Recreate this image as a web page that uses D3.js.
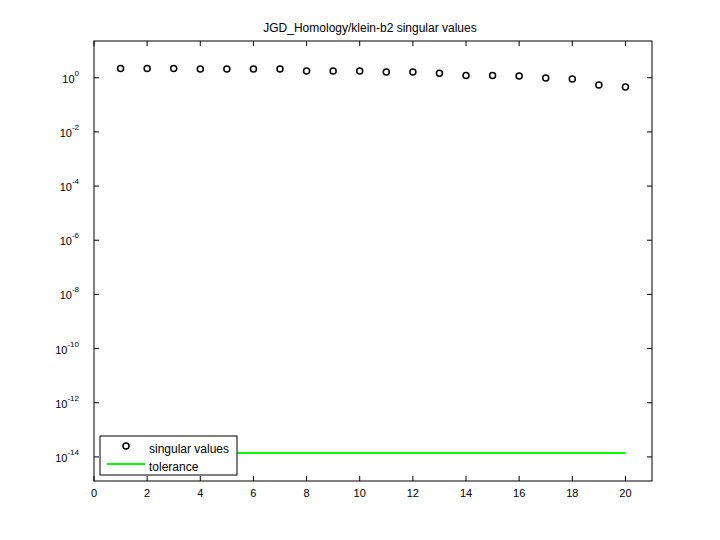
<!DOCTYPE html><html><head><meta charset="utf-8"><script src="https://d3js.org/d3.v7.min.js"></script>
<style>body{margin:0;background:#fff}text{font-family:"Liberation Sans",Arial,sans-serif}</style></head><body><svg id="c" width="720" height="540"></svg>
<script>
const indices=[1,2,3,4,5,6,7,8,9,10,11,12,13,14,15,16,17,18,19,20];
const singularValues=[2.21,2.21,2.21,2.09,2.09,2.09,2.09,1.76,1.76,1.76,1.62,1.62,1.45,1.22,1.22,1.15,0.98,0.89,0.54,0.45];
const tolerance=1.4e-14;
const xTicks=[0,2,4,6,8,10,12,14,16,18,20];
const yExps=[0,-2,-4,-6,-8,-10,-12,-14];
const svg=d3.select("#c");
const L=94,R=652,T=41,B=481;
const x=d3.scaleLinear().domain([0,21]).range([L,R]);
const y=d3.scaleLog().domain([Math.pow(10,-14.89),Math.pow(10,1.356)]).range([B,T]);
svg.append("rect").attr("x",L).attr("y",T).attr("width",R-L).attr("height",B-T).attr("fill","none").attr("stroke","#000");
const g=svg.append("g");
xTicks.forEach(t=>{const px=x(t);
 g.append("line").attr("x1",px).attr("x2",px).attr("y1",B).attr("y2",B-5).attr("stroke","#000");
 g.append("line").attr("x1",px).attr("x2",px).attr("y1",T).attr("y2",T+5).attr("stroke","#000");
 g.append("text").attr("x",px).attr("y",B+16).attr("text-anchor","middle").attr("font-size",11).text(t);});
yExps.forEach(e=>{const py=y(Math.pow(10,e));
 g.append("line").attr("x1",L).attr("x2",L+5).attr("y1",py).attr("y2",py).attr("stroke","#000");
 g.append("line").attr("x1",R).attr("x2",R-5).attr("y1",py).attr("y2",py).attr("stroke","#000");
 const t=g.append("text").attr("x",79).attr("y",py+5).attr("text-anchor","end").attr("font-size",11);
 t.append("tspan").text("10");
 t.append("tspan").attr("dy",-7).attr("font-size",8).text(e);});
svg.append("line").attr("x1",x(1)).attr("x2",x(20)).attr("y1",y(tolerance)).attr("y2",y(tolerance)).attr("stroke","#00ff00").attr("stroke-width",2);
svg.selectAll("circle.p").data(indices).enter().append("circle").attr("cx",d=>x(d)).attr("cy",(d,i)=>y(singularValues[i])).attr("r",3).attr("fill","none").attr("stroke","#000").attr("stroke-width",1.5);
svg.append("text").attr("x",370).attr("y",32).attr("text-anchor","middle").attr("font-size",12).text("JGD_Homology/klein-b2 singular values");
const lg=svg.append("g");
lg.append("rect").attr("x",100).attr("y",436).attr("width",137).attr("height",39).attr("fill","#fff").attr("stroke","#000");
lg.append("circle").attr("cx",126).attr("cy",446).attr("r",3).attr("fill","none").attr("stroke","#000").attr("stroke-width",1.5);
lg.append("text").attr("x",149).attr("y",453).attr("font-size",12).text("singular values");
lg.append("line").attr("x1",107).attr("x2",145).attr("y1",464).attr("y2",464).attr("stroke","#00ff00").attr("stroke-width",2);
lg.append("text").attr("x",149).attr("y",471).attr("font-size",12).text("tolerance");
</script></body></html>
